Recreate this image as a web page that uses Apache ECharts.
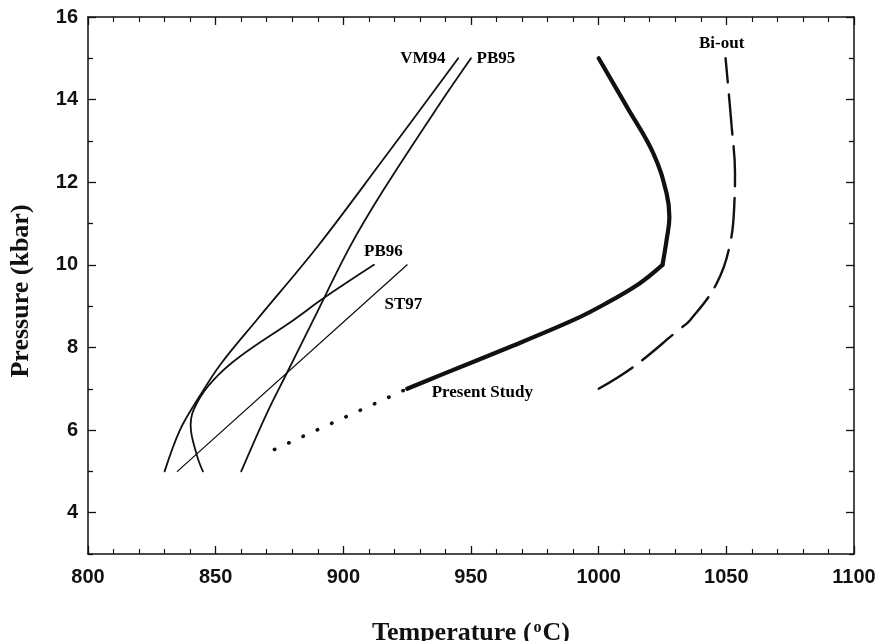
<!DOCTYPE html>
<html>
<head>
<meta charset="utf-8">
<script src="https://cdn.jsdelivr.net/npm/echarts@6/dist/echarts.min.js"></script>
<style>
  html, body { margin: 0; padding: 0; background: #fff; }
  #chart { width: 878px; height: 641px; }
</style>
</head>
<body>
<div id="chart"></div>
<script>
// ---- data (Temperature °C, Pressure kbar) ----
const xTicks = [800, 850, 900, 950, 1000, 1050, 1100];
const yTicks = [4, 6, 8, 10, 12, 14, 16];
const yMinorTicks = [3, 5, 7, 9, 11, 13, 15];

const vm94 = [[830,5],[836,6],[843.5,6.8],[852,7.6],[866,8.66],[890,10.45],[915,12.5],[945,15]];
const pb95 = [[860,5],[870,6.4],[877.8,7.37],[888.2,8.66],[902.6,10.44],[915.7,11.81],[937.9,13.91],[950,15]];
const pb96 = [[845,5],[842.6,5.4],[840.2,6.12],[842.6,6.65],[849.1,7.21],[859.5,7.78],[880.4,8.66],[892.2,9.19],[912,10]];
const st97 = [[835,5],[925,10]];
const presentDotted = [[873,5.53],[925,7]];
const presentLower = [[925,7],[938,7.33],[964,7.98],[990,8.66],[1003,9.07],[1016,9.55],[1025,10]];
const presentUpper = [[1025,10],[1026.6,10.6],[1027.7,11.16],[1026.6,11.73],[1021.4,12.7],[1011,13.83],[1000,15]];
const biOut = [[1000,7],[1013.6,7.53],[1031.2,8.42],[1035.8,8.66],[1046.2,9.55],[1051.5,10.52],[1053.2,11.57],[1053.4,12.22],[1052.1,13.34],[1049.7,15]];

const curveLabels = ['VM94', 'PB95', 'Bi-out', 'PB96', 'ST97', 'Present Study'];

// ---- chart ----
const serif = "'Liberation Serif', 'Times New Roman', serif";
const sans = "'Liberation Sans', Arial, sans-serif";
const ink = '#111';

function lineSeries(data, width, type, smooth) {
  return {
    type: 'line', data: data, symbol: 'none', smooth: smooth,
    silent: true, animation: false,
    lineStyle: { color: ink, width: width, type: type || 'solid', cap: 'round', opacity: 1 }
  };
}

const axisLine = { show: true, lineStyle: { color: ink, width: 1.5 } };

function labelPoint(text, coord, pos) {
  return {
    value: coord,
    label: {
      show: true, formatter: text, position: pos, distance: 0,
      fontFamily: serif, fontWeight: 'bold', fontSize: 17, color: '#000', opacity: 1
    }
  };
}

function yAxisDef(position, ticks, len, withLabels, showLine) {
  return {
    type: 'value', position: position, min: 3, max: 16, interval: 1,
    axisLine: showLine ? axisLine : { show: false },
    splitLine: { show: false },
    axisTick: { show: true, inside: true, length: len, customValues: ticks,
      lineStyle: { color: ink, width: 1.3 } },
    minorTick: { show: false },
    axisLabel: withLabels
      ? { show: true, customValues: ticks, color: ink, fontFamily: sans, fontWeight: 'bold', fontSize: 20, margin: 10 }
      : { show: false }
  };
}

const chart = echarts.init(document.getElementById('chart'), null, { renderer: 'canvas' });
const yLeft = yAxisDef('left', yTicks, 8, true, true);
yLeft.name = 'Pressure (kbar)';
yLeft.nameLocation = 'middle';
yLeft.nameGap = 54;
yLeft.nameTextStyle = { fontFamily: serif, fontWeight: 'bold', fontSize: 26, color: ink, padding: [0, 11, 0, 0] };

chart.setOption({
  backgroundColor: '#fff',
  animation: false,
  grid: { left: 88, right: 24, top: 17, bottom: 87, containLabel: false, outerBoundsMode: 'none' },
  xAxis: [
    {
      type: 'value', position: 'bottom', min: 800, max: 1100, interval: 50,
      axisLine: axisLine, splitLine: { show: false },
      axisTick: { show: true, inside: true, length: 8, lineStyle: { color: ink, width: 1.3 } },
      minorTick: { show: true, splitNumber: 5, length: 5, lineStyle: { color: ink, width: 1.1 } },
      axisLabel: { color: ink, fontFamily: sans, fontWeight: 'bold', fontSize: 20, margin: 13,
        formatter: v => xTicks.indexOf(v) >= 0 ? String(v) : '' },
      name: '{t|Temperature }{t|(}{s|o}{t|C)}',
      nameLocation: 'middle', nameGap: 66,
      nameTextStyle: {
        rich: {
          t: { fontFamily: serif, fontWeight: 'bold', fontSize: 26, color: ink },
          s: { fontFamily: serif, fontWeight: 'bold', fontSize: 16, color: ink, verticalAlign: 'top', padding: [0, 1, 0, 2] }
        }
      }
    },
    {
      type: 'value', position: 'top', min: 800, max: 1100, interval: 50,
      axisLine: axisLine, splitLine: { show: false },
      axisTick: { show: true, inside: true, length: 8, lineStyle: { color: ink, width: 1.3 } },
      minorTick: { show: true, splitNumber: 5, length: 5, lineStyle: { color: ink, width: 1.1 } },
      axisLabel: { show: false }
    }
  ],
  yAxis: [
    yLeft,
    yAxisDef('right', yTicks, 8, false, true),
    yAxisDef('left', yMinorTicks, 5, false, false),
    yAxisDef('right', yMinorTicks, 5, false, false)
  ],
  series: [
    lineSeries(vm94, 1.8, 'solid', 0.35),
    lineSeries(pb95, 1.8, 'solid', 0.35),
    lineSeries(pb96, 1.8, 'solid', 0.4),
    lineSeries(st97, 1.3, 'solid', false),
    lineSeries(presentDotted, 3.6, [0.5, 15.2], false),
    lineSeries(presentLower, 4.2, 'solid', 0.35),
    lineSeries(presentUpper, 4.2, 'solid', 0.4),
    lineSeries(biOut, 2.4, [40, 12], 0.4),
    {
      type: 'scatter', symbolSize: 0, silent: true, animation: false,
      itemStyle: { opacity: 1, color: '#000' },
      data: [
        labelPoint(curveLabels[0], [940, 15.0], 'left'),
        labelPoint(curveLabels[1], [952.2, 15.0], 'right'),
        labelPoint(curveLabels[2], [1039.3, 15.35], 'right'),
        labelPoint(curveLabels[3], [908.1, 10.33], 'right'),
        labelPoint(curveLabels[4], [916.1, 9.04], 'right'),
        labelPoint(curveLabels[5], [934.6, 6.91], 'right')
      ]
    }
  ]
});
</script>
</body>
</html>
